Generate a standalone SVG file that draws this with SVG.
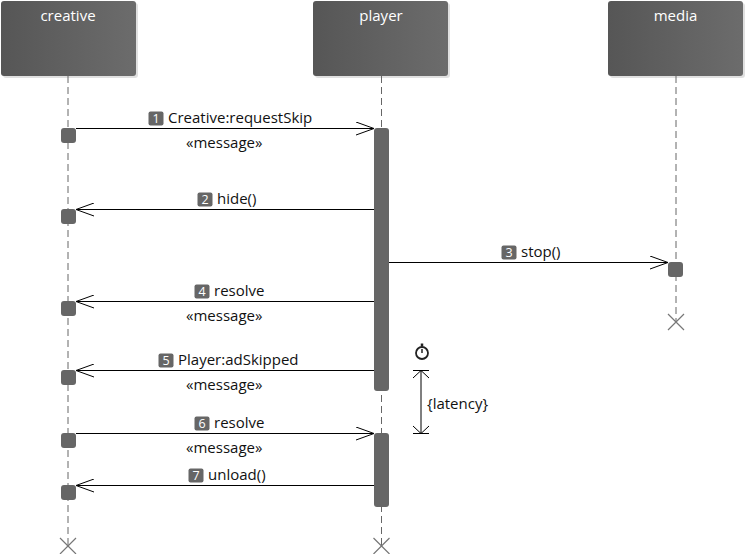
<svg xmlns="http://www.w3.org/2000/svg" width="748" height="554" viewBox="0 0 748 554">
<defs>
<linearGradient id="hdr" x1="0" y1="0" x2="1" y2="0">
<stop offset="0" stop-color="#565656"/>
<stop offset="1" stop-color="#6c6c6c"/>
</linearGradient>
<marker id="open" viewBox="0 0 20 14" refX="19" refY="7" markerWidth="20" markerHeight="14" markerUnits="userSpaceOnUse" orient="auto-start-reverse">
<path d="M1,0.5 L19,7 L1,13.5" fill="none" stroke="#000" stroke-width="1"/>
</marker>
</defs>
<style>
.hdr{fill:url(#hdr)}
.shadow{fill:#000;opacity:0.12}
.title{font-family:"Open Sans","Liberation Sans",sans-serif;font-size:15px;fill:#fff;text-anchor:middle}
.life{stroke:#666;stroke-width:1;stroke-dasharray:7,4;fill:none}
.act{fill:#666}
.exec{fill:#666}
.msg{stroke:#000;stroke-width:1;fill:none;marker-end:url(#open)}
.lbl{font-family:"Open Sans","Liberation Sans",sans-serif;font-size:15px;fill:#111}
.badge{fill:#666}
.num{font-family:"Open Sans","Liberation Sans",sans-serif;font-size:12.5px;fill:#fff;text-anchor:middle}
.end{stroke:#777;stroke-width:1.2;fill:none}
.dur{stroke:#000;stroke-width:1;fill:none}
</style>

<g id="creative">
<rect class="shadow" x="3" y="3" width="135" height="75" rx="3"/>
<rect class="hdr" x="1" y="1" width="135" height="75" rx="3"/>
<text class="title" x="68" y="21">creative</text>
<line class="life" x1="68" y1="76" x2="68" y2="546"/>
<path class="end" d="M60,538 L76,554 M76,538 L60,554"/>
</g>
<g id="player">
<rect class="shadow" x="315" y="3" width="135" height="75" rx="3"/>
<rect class="hdr" x="313" y="1" width="135" height="75" rx="3"/>
<text class="title" x="381" y="21">player</text>
<line class="life" x1="381.5" y1="76" x2="381.5" y2="546"/>
<path class="end" d="M373.5,538 L389.5,554 M389.5,538 L373.5,554"/>
<rect class="act" x="374" y="128" width="15" height="263" rx="3"/>
<rect class="act" x="374" y="433" width="15" height="74" rx="3"/>
</g>
<g id="media">
<rect class="shadow" x="610" y="3" width="135" height="75" rx="3"/>
<rect class="hdr" x="608" y="1" width="135" height="75" rx="3"/>
<text class="title" x="675.5" y="21">media</text>
<line class="life" x1="676" y1="76" x2="676" y2="322"/>
<path class="end" d="M668,314 L684,330 M684,314 L668,330"/>
<rect class="exec" x="668" y="262" width="15" height="15" rx="3"/>
</g>
<g id="creative-exec">
<rect class="exec" x="61" y="128" width="15" height="15" rx="3"/>
<rect class="exec" x="61" y="209" width="15" height="15" rx="3"/>
<rect class="exec" x="61" y="301" width="15" height="15" rx="3"/>
<rect class="exec" x="61" y="370" width="15" height="15" rx="3"/>
<rect class="exec" x="61" y="433" width="15" height="15" rx="3"/>
<rect class="exec" x="61" y="485" width="15" height="15" rx="3"/>
</g>

<g id="connectors">
<line class="msg" x1="76" y1="128.5" x2="374" y2="128.5"/>
<line class="msg" x1="374" y1="209.5" x2="76" y2="209.5"/>
<line class="msg" x1="389" y1="262.5" x2="668" y2="262.5"/>
<line class="msg" x1="374" y1="301.5" x2="76" y2="301.5"/>
<line class="msg" x1="374" y1="370.5" x2="76" y2="370.5"/>
<line class="msg" x1="76" y1="433.5" x2="374" y2="433.5"/>
<line class="msg" x1="374" y1="485.5" x2="76" y2="485.5"/>
</g>

<g id="labels">
<rect class="badge" x="148.5" y="111.5" width="15" height="14" rx="2"/><text class="num" x="156" y="123">1</text>
<text class="lbl" x="168" y="123">Creative:requestSkip</text>
<text class="lbl" x="186" y="148">«message»</text>

<rect class="badge" x="197.5" y="192.5" width="15" height="14" rx="2"/><text class="num" x="205" y="204">2</text>
<text class="lbl" x="217" y="204">hide()</text>

<rect class="badge" x="501.5" y="245.5" width="15" height="14" rx="2"/><text class="num" x="509" y="257">3</text>
<text class="lbl" x="521" y="257">stop()</text>

<rect class="badge" x="194.5" y="284.5" width="15" height="14" rx="2"/><text class="num" x="202" y="296">4</text>
<text class="lbl" x="214" y="296">resolve</text>
<text class="lbl" x="186" y="321">«message»</text>

<rect class="badge" x="158.5" y="353.5" width="15" height="14" rx="2"/><text class="num" x="166" y="365">5</text>
<text class="lbl" x="178" y="365">Player:adSkipped</text>
<text class="lbl" x="186" y="390">«message»</text>

<rect class="badge" x="194.5" y="416.5" width="15" height="14" rx="2"/><text class="num" x="202" y="428">6</text>
<text class="lbl" x="214" y="428">resolve</text>
<text class="lbl" x="186" y="453">«message»</text>

<rect class="badge" x="188.5" y="468.5" width="15" height="14" rx="2"/><text class="num" x="196" y="480">7</text>
<text class="lbl" x="208" y="480">unload()</text>
</g>

<g id="latency">
<circle cx="422" cy="353" r="6" fill="none" stroke="#222" stroke-width="1.8"/>
<line x1="422" y1="343.5" x2="422" y2="346.5" stroke="#222" stroke-width="2.5"/>
<line x1="422" y1="349" x2="422" y2="353" stroke="#222" stroke-width="1.5"/>
<line class="dur" x1="413" y1="370.5" x2="429" y2="370.5"/>
<line class="dur" x1="413" y1="433.5" x2="429" y2="433.5"/>
<line class="dur" x1="421" y1="370.5" x2="421" y2="433.5"/>
<path class="dur" d="M413,378 L421,370.5 L429,378"/>
<path class="dur" d="M413,426 L421,433.5 L429,426"/>
<text class="lbl" x="427" y="409">{latency}</text>
</g>
</svg>
